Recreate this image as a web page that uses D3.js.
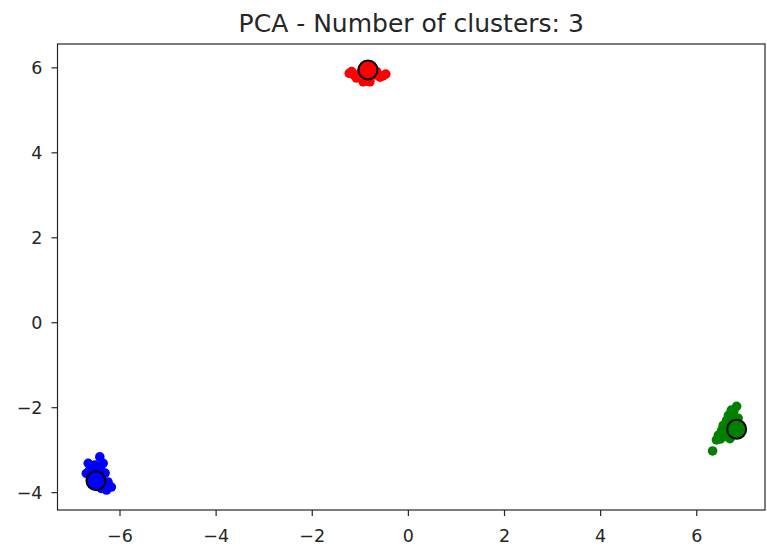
<!DOCTYPE html>
<html>
<head>
<meta charset="utf-8">
<script src="https://cdn.jsdelivr.net/npm/d3@7"></script>
<style>
  body { margin: 0; background: #fff; }
  text { font-family: "DejaVu Sans", sans-serif; }
</style>
</head>
<body>
<div id="output"></div>
<script>
var w = 767;   // svg width
var h = 548;   // svg height

// points of each cluster, [x, y] in PCA space
var redPoints = [[-1.22, 5.86], [-1.17, 5.9], [-1.07, 5.75], [-0.93, 5.66], [-0.79, 5.66],
  [-0.58, 5.77], [-0.46, 5.84], [-0.65, 5.9], [-1.0, 5.85], [-0.85, 5.78], [-0.7, 5.82],
  [-0.95, 5.95], [-1.12, 5.82], [-0.52, 5.8], [-0.86, 5.68]];
var greenPoints = [[6.84, -1.98], [6.73, -2.07], [6.67, -2.19], [6.77, -2.19], [6.87, -2.26],
  [6.63, -2.31], [6.56, -2.43], [6.53, -2.54], [6.46, -2.66], [6.56, -2.7], [6.7, -2.74],
  [6.42, -2.77], [6.34, -3.03], [6.7, -2.4], [6.8, -2.5], [6.62, -2.6], [6.75, -2.65],
  [6.6, -2.5], [6.68, -2.3], [6.5, -2.75], [6.78, -2.1]];
var bluePoints = [[-6.65, -3.32], [-6.41, -3.17], [-6.51, -3.36], [-6.34, -3.32], [-6.62, -3.48],
  [-6.69, -3.56], [-6.24, -3.76], [-6.17, -3.88], [-6.27, -3.95], [-6.38, -3.91], [-6.45, -3.6],
  [-6.3, -3.55], [-6.55, -3.45], [-6.4, -3.45], [-6.22, -3.85], [-6.35, -3.8]];
var centroids = [[-0.83, 5.94], [6.84, -2.52], [-6.49, -3.73]];
var clusterColors = ['red', 'green', 'blue'];
var xTicks = [-6, -4, -2, 0, 2, 4, 6];
var yTicks = [-4, -2, 0, 2, 4, 6];

var margin = {left: 57.5, right: 2, top: 44, bottom: 38};

var svg = d3.select('#output').append('svg')
  .attr('width', w)
  .attr('height', h);

var x = d3.scaleLinear().domain([-7.29, 7.43]).range([margin.left, w - margin.right]);
var y = d3.scaleLinear().domain([-4.42, 6.55]).range([h - margin.bottom, margin.top]);

// scatter points
var groups = [redPoints, greenPoints, bluePoints];
groups.forEach(function(pts, i) {
  svg.append('g').selectAll('circle')
    .data(pts)
    .enter().append('circle')
    .attr('cx', function(d) { return x(d[0]); })
    .attr('cy', function(d) { return y(d[1]); })
    .attr('r', 4.8)
    .attr('fill', clusterColors[i]);
});

// centroids
svg.append('g').selectAll('circle')
  .data(centroids)
  .enter().append('circle')
  .attr('cx', function(d) { return x(d[0]); })
  .attr('cy', function(d) { return y(d[1]); })
  .attr('r', 9.5)
  .attr('fill', function(d, i) { return clusterColors[i]; })
  .attr('stroke', 'black')
  .attr('stroke-width', 2);

var fmt = function(d) { return d < 0 ? '\u2212' + (-d) : d; };

// axes
var xAxis = svg.append('g')
  .attr('transform', 'translate(0,' + (h - margin.bottom) + ')')
  .call(d3.axisBottom(x).tickValues(xTicks).tickSize(6).tickPadding(14).tickFormat(fmt));
var yAxis = svg.append('g')
  .attr('transform', 'translate(' + margin.left + ',0)')
  .call(d3.axisLeft(y).tickValues(yTicks).tickSize(6).tickPadding(9).tickFormat(fmt));

[xAxis, yAxis].forEach(function(a) {
  a.selectAll('.domain').remove();
  a.selectAll('text').attr('font-size', 17.5).attr('fill', '#262626').attr('font-family', 'DejaVu Sans');
  a.selectAll('line').attr('stroke', '#262626').attr('stroke-width', 1.2);
});
xAxis.selectAll('text').attr('dy', '0.71em');
yAxis.selectAll('text').attr('dy', '0.36em');

// frame
svg.append('rect')
  .attr('x', margin.left)
  .attr('y', margin.top)
  .attr('width', w - margin.right - margin.left)
  .attr('height', h - margin.bottom - margin.top)
  .attr('fill', 'none')
  .attr('stroke', '#262626')
  .attr('stroke-width', 1.2);

svg.append('text')
  .attr('x', (margin.left + w - margin.right) / 2)
  .attr('y', 31.5)
  .attr('text-anchor', 'middle')
  .attr('font-size', 25)
  .attr('fill', '#262626')
  .text('PCA - Number of clusters: 3');
</script>
</body>
</html>
